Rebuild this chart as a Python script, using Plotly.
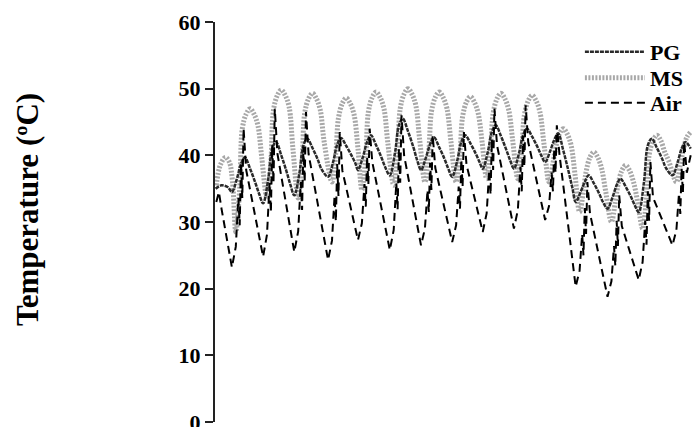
import plotly.graph_objects as go

# ---- data (hours from start, temperature in degC) ----
air_hours = [1, 3, 5,
             13, 16, 18, 19, 20, 21, 22, 24,
             37, 40, 42, 43, 44, 45, 46, 48,
             61, 64, 66, 67, 68, 69, 70, 72,
             87, 90, 92, 93, 94, 95, 96, 98,
             110, 113, 115, 116, 117, 118, 119, 121,
             134.5, 137.5, 139.5, 140.5, 141.5, 142.5, 143.5, 145.5,
             158.5, 161.5, 163.5, 164.5, 165.5, 166.5, 167.5, 169.5,
             182.5, 185.5, 187.5, 188.5, 189.5, 190.5, 191.5, 193.5,
             206, 209, 211, 212, 213, 214, 215, 217,
             230, 233, 235, 236, 237, 238, 239, 241,
             254, 257, 259, 260, 261, 262, 263, 265,
             277.5, 280.5, 282.5, 283.5, 284.5, 285.5, 286.5, 288.5,
             302, 305, 307, 308, 309, 310, 311, 313,
             326, 329, 331, 332, 333, 334, 335, 337,
             352, 355, 357, 358, 359, 360, 361, 363,
             366]
air_temp = [33.0, 34.5, 32.0,
            23.2, 26.3, 33.6, 29.5, 38.8, 33.6, 44.0, 37.8,
            24.8, 28.1, 35.9, 31.5, 41.5, 35.9, 47.0, 40.3,
            25.5, 28.6, 36.0, 31.8, 41.3, 36.0, 46.5, 40.2,
            24.3, 27.2, 33.9, 30.1, 38.7, 33.9, 43.5, 37.7,
            27.3, 29.8, 35.7, 32.3, 39.8, 35.7, 44.0, 39.0,
            25.8, 28.8, 35.9, 31.9, 41.0, 35.9, 46.0, 40.0,
            26.5, 29.0, 34.8, 31.5, 38.9, 34.8, 43.0, 38.1,
            27.0, 29.5, 35.3, 32.0, 39.4, 35.3, 43.5, 38.6,
            28.5, 31.3, 37.8, 34.1, 42.4, 37.8, 47.0, 41.5,
            29.0, 31.8, 38.3, 34.6, 42.9, 38.3, 47.5, 42.0,
            30.3, 32.4, 37.4, 34.6, 41.0, 37.4, 44.5, 40.2,
            20.3, 22.7, 28.2, 25.0, 32.1, 28.2, 36.0, 31.3,
            18.8, 21.1, 26.4, 23.4, 30.2, 26.4, 34.0, 29.4,
            21.3, 24.0, 30.2, 26.6, 34.6, 30.2, 39.0, 33.7,
            26.5, 28.8, 34.3, 31.2, 38.1, 34.3, 42.0, 37.4,
            40.0]

pg_hours = [0.5, 5, 10,
            13, 17, 20, 23, 27, 31, 34,
            37, 41, 44, 47, 51, 55, 58,
            61, 65, 68, 71, 75, 79, 82,
            87, 91, 94, 97, 101, 105, 108,
            110, 114, 117, 120, 124, 128, 131,
            134.5, 138.5, 141.5, 144.5, 148.5, 152.5, 155.5,
            158.5, 162.5, 165.5, 168.5, 172.5, 176.5, 179.5,
            182.5, 186.5, 189.5, 192.5, 196.5, 200.5, 203.5,
            206, 210, 213, 216, 220, 224, 227,
            230, 234, 237, 240, 244, 248, 251,
            254, 258, 261, 264, 268, 272, 275,
            277.5, 281.5, 284.5, 287.5, 291.5, 295.5, 298.5,
            302, 306, 309, 312, 316, 320, 323,
            326, 330, 333, 336, 340, 344, 347,
            352, 356, 359, 362, 366]
pg_temp = [35.0, 35.5, 35.2,
           34.5, 36.6, 38.7, 39.7, 38.0, 35.9, 34.2,
           32.8, 36.5, 41.0, 42.0, 40.0, 37.6, 35.6,
           34.0, 37.4, 41.5, 42.5, 41.1, 39.4, 37.9,
           36.8, 39.1, 41.6, 42.6, 41.4, 40.0, 38.8,
           37.8, 39.9, 42.0, 43.0, 41.5, 39.7, 38.2,
           37.0, 40.4, 44.5, 45.5, 43.6, 41.3, 39.3,
           37.8, 39.8, 41.7, 42.7, 41.2, 39.5, 38.0,
           36.8, 39.3, 42.0, 43.0, 41.8, 40.3, 39.0,
           38.0, 40.6, 43.5, 44.5, 42.9, 40.9, 39.3,
           38.0, 40.4, 43.0, 44.0, 42.8, 41.3, 40.0,
           39.0, 40.7, 42.3, 43.3, 40.7, 37.6, 35.1,
           33.0, 34.6, 36.0, 37.0, 35.8, 34.3, 33.0,
           32.0, 33.8, 35.5, 36.5, 35.3, 33.8, 32.5,
           31.5, 35.9, 41.5, 42.5, 41.1, 39.5, 38.1,
           37.0, 39.0, 41.0, 42.0, 41.0]

ms_hours = [1, 4, 8, 11, 13.5,
            16, 19, 21, 24, 27, 30, 33, 36,
            40, 43, 45, 48, 51, 54, 57, 60,
            64, 67, 69, 72, 75, 78, 81, 84,
            90, 93, 95, 98, 101, 104, 107, 110,
            113, 116, 118, 121, 124, 127, 130, 133,
            137.5, 140.5, 142.5, 145.5, 148.5, 151.5, 154.5, 157.5,
            161.5, 164.5, 166.5, 169.5, 172.5, 175.5, 178.5, 181.5,
            185.5, 188.5, 190.5, 193.5, 196.5, 199.5, 202.5, 205.5,
            209, 212, 214, 217, 220, 223, 226, 229,
            233, 236, 238, 241, 244, 247, 250, 253,
            257, 260, 262, 265, 268, 271, 274, 277,
            280.5, 283.5, 285.5, 288.5, 291.5, 294.5, 297.5, 300.5,
            305, 308, 310, 313, 316, 319, 322, 325,
            329, 332, 334, 337, 340, 343, 346, 349,
            355, 358, 360, 363, 366]
ms_temp = [35.5, 38.5, 39.7, 39.0, 36.0,
           28.5, 35.0, 44.0, 46.2, 47.0, 46.2, 44.5, 39.6,
           33.5, 39.2, 46.8, 49.0, 49.8, 49.0, 47.3, 40.9,
           33.6, 39.1, 46.3, 48.5, 49.3, 48.5, 46.8, 42.0,
           36.0, 40.4, 45.6, 47.8, 48.6, 47.8, 46.1, 41.0,
           34.8, 39.9, 46.5, 48.7, 49.5, 48.7, 47.0, 41.8,
           35.5, 40.6, 47.0, 49.2, 50.0, 49.2, 47.5, 42.3,
           36.0, 40.7, 46.5, 48.7, 49.5, 48.7, 47.0, 42.1,
           36.0, 40.5, 45.8, 48.0, 48.8, 48.0, 46.3, 42.0,
           36.5, 41.0, 46.3, 48.5, 49.3, 48.5, 46.8, 42.3,
           36.5, 40.9, 46.0, 48.2, 49.0, 48.2, 46.5, 41.9,
           36.0, 38.8, 41.0, 43.2, 44.0, 43.2, 41.5, 37.1,
           31.5, 34.7, 37.5, 39.7, 40.5, 39.7, 38.0, 34.7,
           30.0, 33.0, 35.5, 37.7, 38.5, 37.7, 36.0, 33.2,
           29.0, 33.9, 40.0, 42.2, 43.0, 42.2, 40.5, 39.2,
           36.0, 38.6, 40.5, 42.7, 43.5]

y_ticks = [0, 10, 20, 30, 40, 50, 60]
y_title = "Temperature (ºC)"

FONT = "Liberation Serif"
LEG_FONT = dict(family=FONT, size=22, color="black", weight="bold")

fig = go.Figure()
fig.add_trace(go.Scatter(x=ms_hours, y=ms_temp, name="MS", mode="lines",
                         line=dict(color="#a8a8a8", width=5, dash="2px,1.5px", shape="spline"),
                         legend="legend2"))
fig.add_trace(go.Scatter(x=pg_hours, y=pg_temp, name="PG", mode="lines",
                         line=dict(color="#2a2a2a", width=2.5, dash="4px,1px", shape="spline"),
                         legend="legend"))
fig.add_trace(go.Scatter(x=air_hours, y=air_temp, name="Air", mode="lines",
                         line=dict(color="black", width=2, dash="8px,5px"),
                         legend="legend3"))

leg_common = dict(x=0.765, xanchor="left", yanchor="middle", font=LEG_FONT,
                  itemwidth=60, bgcolor="rgba(0,0,0,0)", borderwidth=0)

fig.update_layout(
    width=692, height=427,
    margin=dict(l=215, r=0, t=22, b=5, autoexpand=False),
    paper_bgcolor="white", plot_bgcolor="white",
    font=dict(family=FONT, color="black"),
    showlegend=True,
    legend=dict(y=0.925, **leg_common),
    legend2=dict(y=0.86, **leg_common),
    legend3=dict(y=0.7975, **leg_common),
    xaxis=dict(visible=False, range=[0, 367], automargin=False),
    yaxis=dict(range=[0, 60], tickvals=y_ticks, showgrid=False, zeroline=False,
               showline=True, linecolor="#222", linewidth=2, automargin=False,
               ticks="outside", ticklen=8, tickwidth=2, tickcolor="#222",
               ticklabeloverflow="allow",
               tickfont=dict(family=FONT, size=22, color="black", weight="bold")),
    annotations=[dict(text="<b>" + y_title + "</b>", xref="paper", yref="paper",
                      x=-0.394, y=0.53, xanchor="center", yanchor="middle",
                      textangle=-90, showarrow=False,
                      font=dict(family=FONT, size=31, color="black"))],
)

fig.write_html("out.html")
